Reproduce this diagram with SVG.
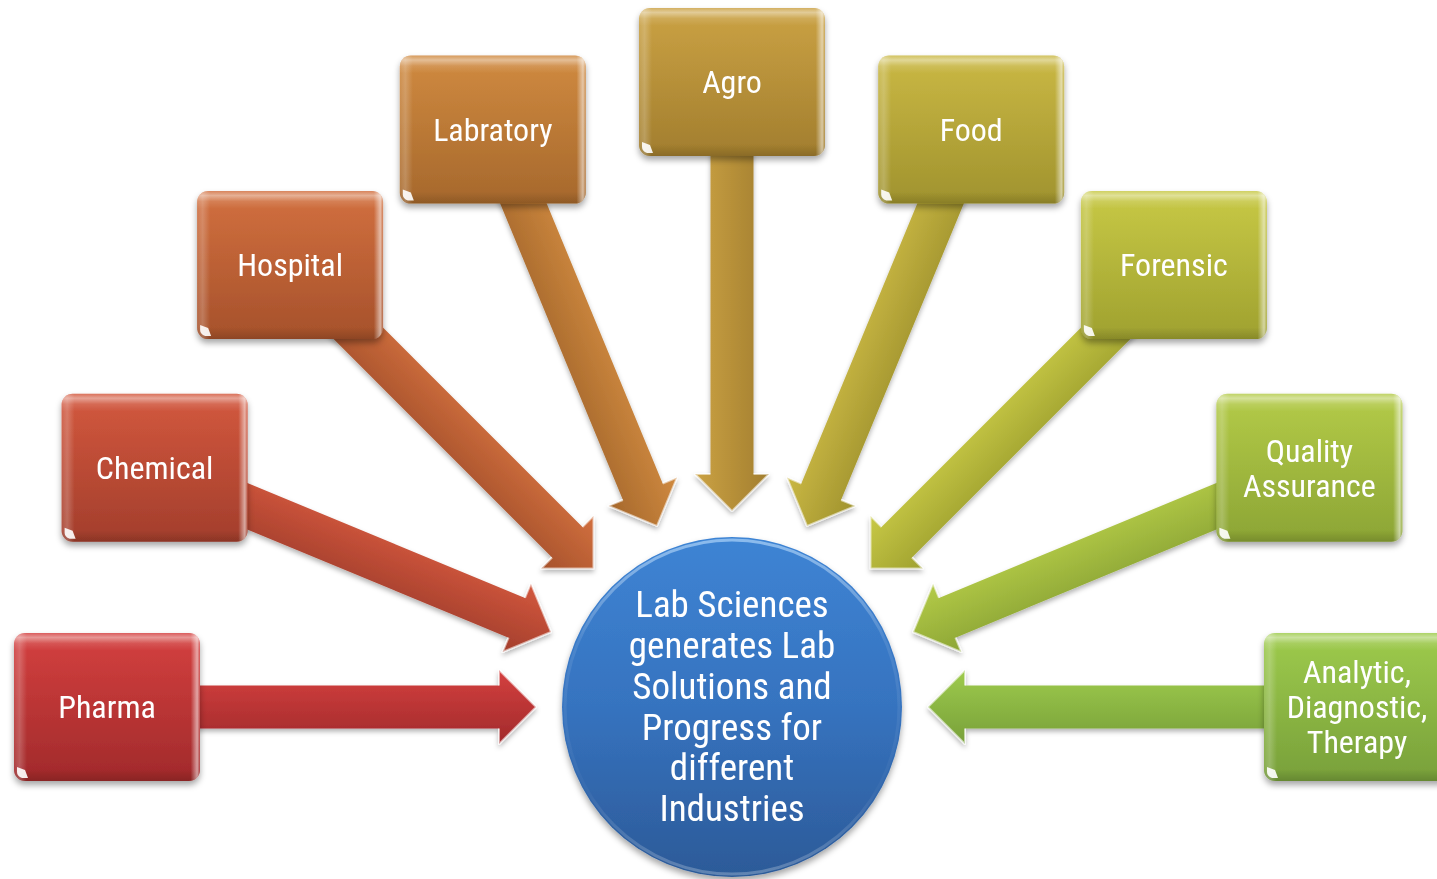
<svg xmlns="http://www.w3.org/2000/svg" width="1437" height="879" viewBox="0 0 1437 879">
<style>
.lbl{font-family:"Liberation Sans Narrow","Roboto Condensed","DejaVu Sans Condensed","Liberation Sans",sans-serif;font-size:32px;fill:#fff;text-anchor:middle}
.ctr{font-family:"Liberation Sans Narrow","Roboto Condensed","DejaVu Sans Condensed","Liberation Sans",sans-serif;font-size:37px;fill:#fff;text-anchor:middle}
.bv{fill:url(#bevV)}
.bh{fill:url(#bevH)}
.cn{fill:#fff;opacity:.9}
.hl{fill:none;stroke:#fff;stroke-opacity:.55;stroke-width:2;stroke-linejoin:round}
</style>
<defs>
<filter id="sh" x="-20%" y="-20%" width="140%" height="150%"><feDropShadow dx="0" dy="4" stdDeviation="3" flood-color="#000" flood-opacity="0.35"/></filter>
<filter id="ash" x="-10%" y="-30%" width="120%" height="160%"><feDropShadow dx="0" dy="3" stdDeviation="2.5" flood-color="#000" flood-opacity="0.3"/></filter>
<linearGradient id="bevV" x1="0" y1="0" x2="0" y2="1">
<stop offset="0" stop-color="#fff" stop-opacity=".15"/>
<stop offset=".03" stop-color="#fff" stop-opacity=".45"/>
<stop offset=".07" stop-color="#fff" stop-opacity=".12"/>
<stop offset=".12" stop-color="#fff" stop-opacity="0"/>
<stop offset=".92" stop-color="#000" stop-opacity="0"/>
<stop offset="1" stop-color="#000" stop-opacity=".15"/>
</linearGradient>
<linearGradient id="bevH" x1="0" y1="0" x2="1" y2="0">
<stop offset="0" stop-color="#fff" stop-opacity=".1"/>
<stop offset=".03" stop-color="#fff" stop-opacity=".22"/>
<stop offset=".07" stop-color="#fff" stop-opacity="0"/>
<stop offset=".95" stop-color="#fff" stop-opacity="0"/>
<stop offset=".985" stop-color="#fff" stop-opacity=".55"/>
<stop offset="1" stop-color="#fff" stop-opacity=".1"/>
</linearGradient>
<linearGradient id="g0" x1="0" y1="0" x2="0" y2="1"><stop offset="0" stop-color="#d4403f"/><stop offset="1" stop-color="#a12a2b"/></linearGradient>
<linearGradient id="g1" x1="0" y1="0" x2="0" y2="1"><stop offset="0" stop-color="#d3583e"/><stop offset="1" stop-color="#a33e2c"/></linearGradient>
<linearGradient id="g2" x1="0" y1="0" x2="0" y2="1"><stop offset="0" stop-color="#d2703f"/><stop offset="1" stop-color="#a6512b"/></linearGradient>
<linearGradient id="g3" x1="0" y1="0" x2="0" y2="1"><stop offset="0" stop-color="#d08a40"/><stop offset="1" stop-color="#a6682c"/></linearGradient>
<linearGradient id="g4" x1="0" y1="0" x2="0" y2="1"><stop offset="0" stop-color="#cba244"/><stop offset="1" stop-color="#a27e2e"/></linearGradient>
<linearGradient id="g5" x1="0" y1="0" x2="0" y2="1"><stop offset="0" stop-color="#cab844"/><stop offset="1" stop-color="#a0932e"/></linearGradient>
<linearGradient id="g6" x1="0" y1="0" x2="0" y2="1"><stop offset="0" stop-color="#c8c946"/><stop offset="1" stop-color="#9fa12f"/></linearGradient>
<linearGradient id="g7" x1="0" y1="0" x2="0" y2="1"><stop offset="0" stop-color="#b4cb48"/><stop offset="1" stop-color="#8ca535"/></linearGradient>
<linearGradient id="g8" x1="0" y1="0" x2="0" y2="1"><stop offset="0" stop-color="#9ecb4c"/><stop offset="1" stop-color="#78a03a"/></linearGradient>
<linearGradient id="circ" x1="0" y1="0" x2="0" y2="1"><stop offset="0" stop-color="#3e84d4"/><stop offset=".5" stop-color="#3673bf"/><stop offset="1" stop-color="#2c5a98"/></linearGradient>
<linearGradient id="rim" x1="0" y1="0" x2="0" y2="1"><stop offset="0" stop-color="#bfe0ff" stop-opacity=".6"/><stop offset=".3" stop-color="#fff" stop-opacity=".1"/><stop offset=".75" stop-color="#fff" stop-opacity=".03"/><stop offset="1" stop-color="#fff" stop-opacity=".25"/></linearGradient>
<polygon id="arr" points="0,-21.5 392,-21.5 392,-37 429,0 392,37 392,21.5 0,21.5"/>
<polyline id="arrh" points="392,-21.5 392,-37 429,0 392,37 392,21.5"/>
</defs>
<rect width="1437" height="879" fill="#fff"/>
<g id="connectors" filter="url(#ash)">
<g transform="translate(107,707)"><use href="#arr" fill="url(#g0)"/><use href="#arrh" class="hl"/></g>
<g transform="translate(154.6,467.8) rotate(22.5)"><use href="#arr" fill="url(#g1)"/><use href="#arrh" class="hl"/></g>
<g transform="translate(290.1,265.1) rotate(45)"><use href="#arr" fill="url(#g2)"/><use href="#arrh" class="hl"/></g>
<g transform="translate(492.8,129.6) rotate(67.5)"><use href="#arr" fill="url(#g3)"/><use href="#arrh" class="hl"/></g>
<g transform="translate(732,82) rotate(90) scale(1,-1)"><use href="#arr" fill="url(#g4)"/><use href="#arrh" class="hl"/></g>
<g transform="translate(971.2,129.6) rotate(112.5) scale(1,-1)"><use href="#arr" fill="url(#g5)"/><use href="#arrh" class="hl"/></g>
<g transform="translate(1173.9,265.1) rotate(135) scale(1,-1)"><use href="#arr" fill="url(#g6)"/><use href="#arrh" class="hl"/></g>
<g transform="translate(1309.4,467.8) rotate(157.5) scale(1,-1)"><use href="#arr" fill="url(#g7)"/><use href="#arrh" class="hl"/></g>
<g transform="translate(1357,707) rotate(180) scale(1,-1)"><use href="#arr" fill="url(#g8)"/><use href="#arrh" class="hl"/></g>
</g>
<g id="center">
<circle cx="732" cy="707" r="170" fill="url(#circ)" filter="url(#sh)"/>
<circle cx="732" cy="707" r="167" fill="none" stroke="url(#rim)" stroke-width="3"/>
<text class="ctr" x="732" y="617">Lab Sciences</text>
<text class="ctr" x="732" y="658">generates Lab</text>
<text class="ctr" x="732" y="699">Solutions and</text>
<text class="ctr" x="732" y="740">Progress for</text>
<text class="ctr" x="732" y="780">different</text>
<text class="ctr" x="732" y="821">Industries</text>
</g>
<g id="pharma" transform="translate(107,707)">
<rect x="-93" y="-74" width="186" height="148" rx="11" fill="url(#g0)" filter="url(#sh)"/>
<rect class="bv" x="-93" y="-74" width="186" height="148" rx="11"/><rect class="bh" x="-93" y="-74" width="186" height="148" rx="11"/>
<path class="cn" d="M-90,60 L-82,63 L-79,71 L-85,71 Q-90,69 -90,65 Z"/>
<text class="lbl" y="11">Pharma</text>
</g>
<g id="chemical" transform="translate(154.6,467.8)">
<rect x="-93" y="-74" width="186" height="148" rx="11" fill="url(#g1)" filter="url(#sh)"/>
<rect class="bv" x="-93" y="-74" width="186" height="148" rx="11"/><rect class="bh" x="-93" y="-74" width="186" height="148" rx="11"/>
<path class="cn" d="M-90,60 L-82,63 L-79,71 L-85,71 Q-90,69 -90,65 Z"/>
<text class="lbl" y="11">Chemical</text>
</g>
<g id="hospital" transform="translate(290.1,265.1)">
<rect x="-93" y="-74" width="186" height="148" rx="11" fill="url(#g2)" filter="url(#sh)"/>
<rect class="bv" x="-93" y="-74" width="186" height="148" rx="11"/><rect class="bh" x="-93" y="-74" width="186" height="148" rx="11"/>
<path class="cn" d="M-90,60 L-82,63 L-79,71 L-85,71 Q-90,69 -90,65 Z"/>
<text class="lbl" y="11">Hospital</text>
</g>
<g id="labratory" transform="translate(492.8,129.6)">
<rect x="-93" y="-74" width="186" height="148" rx="11" fill="url(#g3)" filter="url(#sh)"/>
<rect class="bv" x="-93" y="-74" width="186" height="148" rx="11"/><rect class="bh" x="-93" y="-74" width="186" height="148" rx="11"/>
<path class="cn" d="M-90,60 L-82,63 L-79,71 L-85,71 Q-90,69 -90,65 Z"/>
<text class="lbl" y="11">Labratory</text>
</g>
<g id="agro" transform="translate(732,82)">
<rect x="-93" y="-74" width="186" height="148" rx="11" fill="url(#g4)" filter="url(#sh)"/>
<rect class="bv" x="-93" y="-74" width="186" height="148" rx="11"/><rect class="bh" x="-93" y="-74" width="186" height="148" rx="11"/>
<path class="cn" d="M-90,60 L-82,63 L-79,71 L-85,71 Q-90,69 -90,65 Z"/>
<text class="lbl" y="11">Agro</text>
</g>
<g id="food" transform="translate(971.2,129.6)">
<rect x="-93" y="-74" width="186" height="148" rx="11" fill="url(#g5)" filter="url(#sh)"/>
<rect class="bv" x="-93" y="-74" width="186" height="148" rx="11"/><rect class="bh" x="-93" y="-74" width="186" height="148" rx="11"/>
<path class="cn" d="M-90,60 L-82,63 L-79,71 L-85,71 Q-90,69 -90,65 Z"/>
<text class="lbl" y="11">Food</text>
</g>
<g id="forensic" transform="translate(1173.9,265.1)">
<rect x="-93" y="-74" width="186" height="148" rx="11" fill="url(#g6)" filter="url(#sh)"/>
<rect class="bv" x="-93" y="-74" width="186" height="148" rx="11"/><rect class="bh" x="-93" y="-74" width="186" height="148" rx="11"/>
<path class="cn" d="M-90,60 L-82,63 L-79,71 L-85,71 Q-90,69 -90,65 Z"/>
<text class="lbl" y="11">Forensic</text>
</g>
<g id="quality" transform="translate(1309.4,467.8)">
<rect x="-93" y="-74" width="186" height="148" rx="11" fill="url(#g7)" filter="url(#sh)"/>
<rect class="bv" x="-93" y="-74" width="186" height="148" rx="11"/><rect class="bh" x="-93" y="-74" width="186" height="148" rx="11"/>
<path class="cn" d="M-90,60 L-82,63 L-79,71 L-85,71 Q-90,69 -90,65 Z"/>
<text class="lbl" y="-6">Quality</text>
<text class="lbl" y="29">Assurance</text>
</g>
<g id="analytic" transform="translate(1357,707)">
<rect x="-93" y="-74" width="186" height="148" rx="11" fill="url(#g8)" filter="url(#sh)"/>
<rect class="bv" x="-93" y="-74" width="186" height="148" rx="11"/><rect class="bh" x="-93" y="-74" width="186" height="148" rx="11"/>
<path class="cn" d="M-90,60 L-82,63 L-79,71 L-85,71 Q-90,69 -90,65 Z"/>
<text class="lbl" y="-24">Analytic,</text>
<text class="lbl" y="11">Diagnostic,</text>
<text class="lbl" y="46">Therapy</text>
</g>
</svg>
